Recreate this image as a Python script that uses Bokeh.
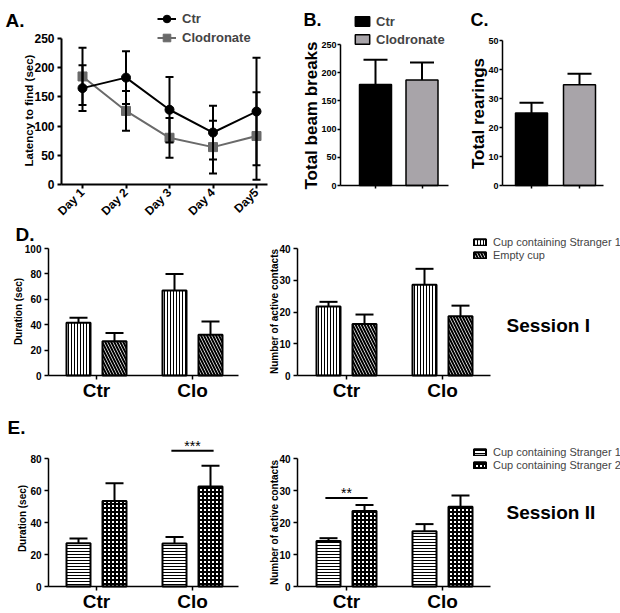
import numpy as np
from bokeh.plotting import figure
from bokeh.models import (Range1d, Label, Legend, LegendItem, Whisker, TeeHead,
                          ColumnDataSource, FixedTicker, SingleIntervalTicker)
from bokeh.layouts import row, column
from bokeh.embed import file_html
from bokeh.resources import INLINE

FONT = "Liberation Sans"

# ---------------- data ----------------
days = ["Day 1", "Day 2", "Day 3", "Day 4", "Day5"]
ctr_latency = [165, 183, 128, 89, 125]
ctr_latency_sem = [39, 45, 56, 46, 92]
clo_latency = [185, 126, 80, 64, 83]
clo_latency_sem = [49, 34, 34, 45, 75]

groups = ["Ctr", "Clodronate"]
beam_breaks = [179, 187]
beam_breaks_sem = [44, 31]
rearings = [25, 34.7]
rearings_sem = [3.5, 3.8]

treat = ["Ctr", "Clo"]
# Session I
s1_duration = [41.5, 67]
s1_duration_sem = [4, 13]
empty_duration = [27, 32]
empty_duration_sem = [6.5, 10.5]
s1_contacts = [21.7, 28.6]
s1_contacts_sem = [1.5, 5]
empty_contacts = [16.2, 18.7]
empty_contacts_sem = [3, 3.3]
# Session II
s1b_duration = [27, 26.9]
s1b_duration_sem = [3, 4]
s2_duration = [53.5, 62.5]
s2_duration_sem = [11, 13]
s1b_contacts = [14.2, 17.3]
s1b_contacts_sem = [0.9, 2.2]
s2_contacts = [23.6, 24.9]
s2_contacts_sem = [1.9, 3.5]


class Panel:
    """A figure whose frame fills its whole canvas; axes are placed with fixed_location."""

    def __init__(self, ox, oy, W, H, pxa, xa, pxb, xb, pya, ya, pyb, yb):
        self.ox, self.oy, self.W, self.H = ox, oy, W, H
        self.pxa, self.xa, self.sx = pxa, xa, (xb - xa) / (pxb - pxa)
        self.pya, self.ya, self.sy = pya, ya, (yb - ya) / (pyb - pya)
        self.p = figure(width=W, height=H,
                        x_range=Range1d(self.dx(ox), self.dx(ox + W)),
                        y_range=Range1d(self.dy(oy + H), self.dy(oy)),
                        output_backend="svg", toolbar_location=None,
                        min_border_left=0, min_border_right=0,
                        min_border_top=0, min_border_bottom=0)
        p = self.p
        p.xgrid.visible = False
        p.ygrid.visible = False
        p.outline_line_color = None
        p.background_fill_color = "white"
        p.border_fill_color = "white"

    def dx(self, px):
        return self.xa + (px - self.pxa) * self.sx

    def dy(self, py):
        return self.ya + (py - self.pya) * self.sy

    def ppu_y(self):
        return abs(1.0 / self.sy)

    def text(self, px, py, s, size, bold=True, align="left", angle=0.0):
        # py is the vertical centre of the text
        self.p.add_layout(Label(x=self.dx(px), y=self.dy(py), text=s, text_font=FONT,
                                text_font_size=f"{size}px",
                                text_font_style="bold" if bold else "normal",
                                text_align=align, text_baseline="middle", angle=angle,
                                text_color="black"))

    def axes(self, yaxis_px, xaxis_right_px, ymax, ytick_int, tick_size, lw=1.5,
             xticks=None, xlabels=None, xsize=None, tick_out=4, standoff=3):
        p = self.p
        xa, ya = p.xaxis[0], p.yaxis[0]
        for ax in (xa, ya):
            ax.axis_line_width = lw
            ax.axis_line_color = "black"
            ax.major_tick_line_width = lw
            ax.major_tick_line_color = "black"
            ax.major_tick_out = tick_out
            ax.major_tick_in = 0
            ax.minor_tick_line_color = None
            ax.major_label_text_font = FONT
            ax.major_label_text_font_style = "bold"
            ax.major_label_text_font_size = tick_size
            ax.major_label_text_color = "black"
            ax.major_label_standoff = standoff
        ya.fixed_location = self.dx(yaxis_px)
        ya.bounds = (0, ymax)
        ya.ticker = SingleIntervalTicker(interval=ytick_int, num_minor_ticks=0)
        xa.fixed_location = 0
        xa.bounds = (self.dx(yaxis_px), self.dx(xaxis_right_px))
        xa.ticker = FixedTicker(ticks=list(xticks))
        if xlabels is None:
            xa.major_label_overrides = {float(t): "" for t in xticks}
        else:
            xa.major_label_overrides = {float(t): l for t, l in zip(xticks, xlabels)}
            if xsize:
                xa.major_label_text_font_size = xsize
                xa.major_label_standoff = 0


def bars(pn, xs, vals, sems, width, cap, line_width=2, **glyph):
    upper = [v + e for v, e in zip(vals, sems)]
    src = ColumnDataSource(dict(x=list(xs), top=vals, upper=upper))
    r = pn.p.vbar(x="x", top="top", bottom=0, width=width, source=src,
                  line_color="black", line_width=line_width, **glyph)
    pn.p.add_layout(Whisker(source=src, base="x", lower="top", upper="upper",
                            line_width=2, line_color="black",
                            upper_head=TeeHead(size=cap, line_width=2, line_color="black"),
                            lower_head=None))
    return r


def legend(pn, items, px_left, py_bottom, gw, gh, lh, standoff, size, bold):
    pn.p.add_layout(Legend(items=items,
                           location=(px_left - pn.ox, pn.oy + pn.H - py_bottom),
                           orientation="vertical", padding=0, margin=0, spacing=0,
                           glyph_width=gw, glyph_height=gh, label_height=lh,
                           label_standoff=standoff, label_text_font=FONT,
                           label_text_font_style="bold" if bold else "normal",
                           label_text_font_size=f"{size}px",
                           border_line_color=None, background_fill_alpha=0))


ROW1_H = 220
ROW2_Y = ROW1_H
ROW3_Y = 405

# ---------------- Panel A ----------------
A = Panel(0, 0, 270, ROW1_H, 82, 1, 256, 5, 184, 0, 38, 250)
pa = A.p
xd = np.arange(1, len(days) + 1)
srcA1 = ColumnDataSource(dict(x=xd, y=ctr_latency,
                              lo=[m - e for m, e in zip(ctr_latency, ctr_latency_sem)],
                              hi=[m + e for m, e in zip(ctr_latency, ctr_latency_sem)]))
srcA2 = ColumnDataSource(dict(x=xd, y=clo_latency,
                              lo=[m - e for m, e in zip(clo_latency, clo_latency_sem)],
                              hi=[m + e for m, e in zip(clo_latency, clo_latency_sem)]))
GREY = "#6a6a6a"
l2 = pa.line("x", "y", source=srcA2, line_color=GREY, line_width=2)
m2 = pa.scatter("x", "y", source=srcA2, marker="square", size=9, fill_color=GREY, line_color=GREY)
l1 = pa.line("x", "y", source=srcA1, line_color="black", line_width=2)
m1 = pa.scatter("x", "y", source=srcA1, marker="circle", size=9, fill_color="black", line_color="black")
for s in (srcA2, srcA1):
    pa.add_layout(Whisker(source=s, base="x", lower="lo", upper="hi", line_width=2,
                          line_color="black", level="overlay",
                          upper_head=TeeHead(size=8, line_width=2, line_color="black"),
                          lower_head=TeeHead(size=8, line_width=2, line_color="black")))
A.axes(61, 267, 250, 50, "12px", lw=2, xticks=xd, xlabels=days)
pa.xaxis[0].major_label_orientation = np.pi / 4
pa.xaxis[0].major_label_text_font_size = "12px"
pa.xaxis[0].major_label_standoff = 2
legend(A, [LegendItem(label="Ctr", renderers=[l1, m1]),
           LegendItem(label="Clodronate", renderers=[l2, m2])],
       157, 46.5, 19, 19, 19, 6, 13, True)
A.text(5, 19.5, "A.", 19)
A.text(28, 110, "Latency to find (sec)", 11.5, align="center", angle=np.pi / 2)

# ---------------- Panel B ----------------
B = Panel(270, 0, 185, ROW1_H, 375, 1, 421.5, 2, 185, 0, 44, 250)
xg = np.arange(1, len(groups) + 1)
BAR_GREY = "#a8a4a9"
rb = []
for i, col in enumerate(["black", BAR_GREY]):
    rb.append(bars(B, [xg[i]], [beam_breaks[i]], [beam_breaks_sem[i]], 32 * B.sx, 24,
                   line_width=1.5, fill_color=col))
B.axes(340, 448, 250, 50, "9px", xticks=xg, tick_out=3, standoff=1)
legend(B, [LegendItem(label=g, renderers=[r]) for g, r in zip(groups, rb)],
       353, 48, 18, 12, 18, 5, 13, True)
B.text(303, 19, "B.", 18)
B.text(311, 115, "Total beam breaks", 17, align="center", angle=np.pi / 2)

# ---------------- Panel C ----------------
C = Panel(455, 0, 165, ROW1_H, 531, 1, 579, 2, 185, 0, 40, 50)
for i, col in enumerate(["black", BAR_GREY]):
    bars(C, [xg[i]], [rearings[i]], [rearings_sem[i]], 32 * C.sx, 24,
         line_width=1.5, fill_color=col)
C.axes(502, 603, 50, 10, "9px", xticks=xg, tick_out=3, standoff=1)
C.text(470, 19, "C.", 18)
C.text(478, 113, "Total rearings", 17, align="center", angle=np.pi / 2)

# ---------------- Panels D & E ----------------
xt = np.arange(1, len(treat) + 1)
OFF, BW, CAP = 0.1875, 0.25, 18
VERT = dict(fill_color="white", hatch_pattern="vertical_line", hatch_scale=3, hatch_weight=1, hatch_color="black")
DIAG = dict(fill_color="white", hatch_pattern="left_diagonal_line", hatch_scale=6, hatch_weight=2, hatch_color="black")
HOR = dict(fill_color="white", hatch_pattern="horizontal_line", hatch_scale=3, hatch_weight=1, hatch_color="black")
CHK = dict(fill_color="white", hatch_pattern="cross", hatch_scale=4, hatch_weight=2, hatch_color="black")


def pair_panel(pn, v1, e1, v2, e2, st1, st2, yaxis_px, xright_px, ymax, yint):
    r1 = bars(pn, xt - OFF, v1, e1, BW, CAP, **st1)
    r2 = bars(pn, xt + OFF, v2, e2, BW, CAP, **st2)
    pn.axes(yaxis_px, xright_px, ymax, yint, "10px", xticks=xt, xlabels=treat, xsize="19px")
    return r1, r2


D1 = Panel(0, ROW2_Y, 250, ROW3_Y - ROW2_Y, 96, 1, 192, 2, 375, 0, 248, 100)
pair_panel(D1, s1_duration, s1_duration_sem, empty_duration, empty_duration_sem, VERT, DIAG,
           48, 238, 100, 20)
D1.text(15, 233.5, "D.", 19)
D1.text(18, 311, "Duration (sec)", 10, align="center", angle=np.pi / 2)

D2 = Panel(250, ROW2_Y, 370, ROW3_Y - ROW2_Y, 346, 1, 442, 2, 375, 0, 248, 40)
rd1, rd2 = pair_panel(D2, s1_contacts, s1_contacts_sem, empty_contacts, empty_contacts_sem,
                      VERT, DIAG, 297, 490, 40, 10)
D2.text(274, 311, "Number of active contacts", 10, align="center", angle=np.pi / 2)
legend(D2, [LegendItem(label="Cup containing Stranger 1", renderers=[rd1]),
            LegendItem(label="Empty cup", renderers=[rd2])],
       472, 261.5, 15, 8, 13, 6, 11, False)
D2.text(506, 325, "Session I", 19)

E1 = Panel(0, ROW3_Y, 250, 613 - ROW3_Y, 96, 1, 192, 2, 586, 0, 458, 80)
pair_panel(E1, s1b_duration, s1b_duration_sem, s2_duration, s2_duration_sem, HOR, CHK,
           48, 238, 80, 20)
E1.text(7, 426.5, "E.", 19)
E1.text(22, 518, "Duration (sec)", 10, align="center", angle=np.pi / 2)

E2 = Panel(250, ROW3_Y, 370, 613 - ROW3_Y, 346, 1, 442, 2, 586, 0, 458, 40)
re1, re2 = pair_panel(E2, s1b_contacts, s1b_contacts_sem, s2_contacts, s2_contacts_sem,
                      HOR, CHK, 297, 490, 40, 10)
E2.text(274, 522, "Number of active contacts", 10, align="center", angle=np.pi / 2)
legend(E2, [LegendItem(label="Cup containing Stranger 1", renderers=[re1]),
            LegendItem(label="Cup containing Stranger 2", renderers=[re2])],
       472, 471, 15, 8, 13, 6, 11, False)
E2.text(506, 512, "Session II", 19)

# significance brackets
SIG_HALF = 0.22
for pn, v, e, gi, stars, pad_px in [(E1, s2_duration, s2_duration_sem, 1, "***", 15),
                                    (E2, s2_contacts, s2_contacts_sem, 0, "**", 7)]:
    top = v[gi] + e[gi]
    ppu = pn.ppu_y()
    yl = top + pad_px / ppu
    xc = xt[gi]
    pn.p.segment(x0=[xc - SIG_HALF], y0=[yl], x1=[xc + SIG_HALF], y1=[yl],
                 line_color="black", line_width=2)
    pn.p.add_layout(Label(x=xc, y=yl + 4.5 / ppu, text=stars, text_font=FONT, text_font_size="14px",
                          text_align="center", text_baseline="middle", text_color="black"))

layout = column(row(A.p, B.p, C.p, spacing=0),
                row(D1.p, D2.p, spacing=0),
                row(E1.p, E2.p, spacing=0), spacing=0)

open("out.html", "w").write(file_html(layout, INLINE))
